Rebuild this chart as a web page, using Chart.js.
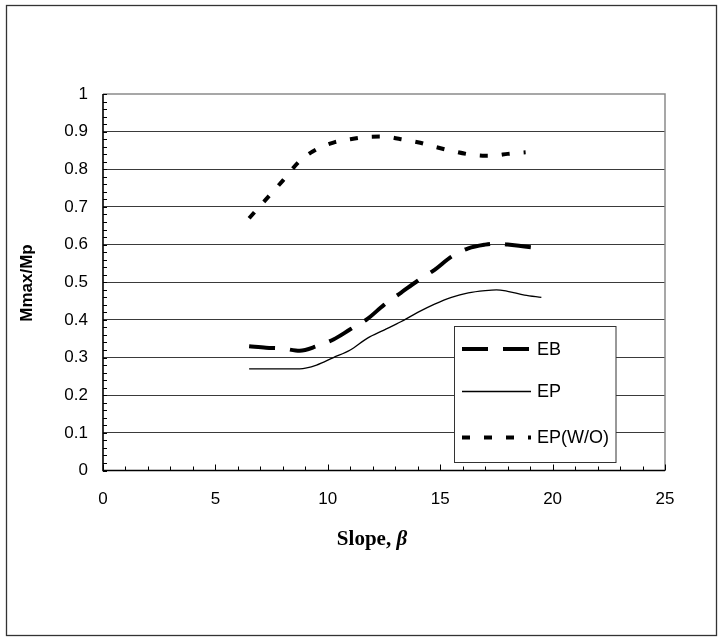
<!DOCTYPE html>
<html>
<head>
<meta charset="utf-8">
<script src="https://cdn.jsdelivr.net/npm/chart.js@4/dist/chart.umd.min.js"></script>
<style>
  html, body { margin: 0; padding: 0; background: #fff; }
  #wrap { width: 722px; height: 641px; position: relative; }
</style>
</head>
<body>
<div id="wrap"><canvas id="c" width="722" height="641"></canvas></div>
<script>
// ---- data ----
const slopeX   = [6.5, 7.25, 8.0, 8.75, 9.5, 10.25, 11.0, 11.75, 12.5, 13.25, 14.0, 14.75, 15.5, 16.25, 17.0, 17.5, 18.0, 18.75, 19.5];
const ebValues = [0.33, 0.326, 0.324, 0.318, 0.33, 0.348, 0.375, 0.402, 0.44, 0.472, 0.504, 0.533, 0.568, 0.59, 0.6, 0.603, 0.6, 0.595, 0.59];
const epValues = [0.27, 0.27, 0.27, 0.27, 0.28, 0.30, 0.32, 0.351, 0.373, 0.395, 0.42, 0.442, 0.46, 0.472, 0.478, 0.48, 0.476, 0.466, 0.46];
const epwoX      = [6.5, 7.25, 8.0, 8.75, 9.5, 10.25, 11.0, 11.75, 12.5, 13.25, 14.0, 14.75, 15.5, 16.25, 17.0, 17.5, 18.0, 18.8];
const epwoValues = [0.67, 0.72, 0.77, 0.822, 0.853, 0.871, 0.88, 0.886, 0.887, 0.88, 0.872, 0.86, 0.849, 0.84, 0.836, 0.837, 0.841, 0.845];
const seriesNames = ['EB', 'EP', 'EP(W/O)'];
const xTicks = [0, 5, 10, 15, 20, 25];
const yTicks = [0, 0.1, 0.2, 0.3, 0.4, 0.5, 0.6, 0.7, 0.8, 0.9, 1];
const xTitle = 'Slope, ';
const xTitleSym = 'β';
const yTitle = 'Mmax/Mp';

const pts = (xs, ys) => ys.map((v, i) => ({x: xs[i], y: v}));

const SANS = '"Liberation Sans", Arial, sans-serif';
const SERIF = '"Liberation Serif", "Times New Roman", serif';

const styles = [
  {borderDash: [26, 15], borderWidth: 4},
  {borderDash: [], borderWidth: 1.3},
  {borderDash: [8, 14], borderWidth: 4}
];

const decor = {
  id: 'decor',
  beforeDraw(chart) {
    const ctx = chart.ctx;
    ctx.save();
    ctx.fillStyle = '#fff';
    ctx.fillRect(0, 0, chart.width, chart.height);
    // outer frame
    ctx.strokeStyle = '#333';
    ctx.lineWidth = 1.3;
    ctx.strokeRect(6.5, 5.5, 710, 630);
    ctx.restore();
  },
  beforeDatasetsDraw(chart) {
    const ctx = chart.ctx;
    const xs = chart.scales.x, ys = chart.scales.y;
    const L = xs.left, R = xs.right, T = ys.top, B = ys.bottom;
    ctx.save();
    // top and right border (grey)
    ctx.strokeStyle = '#8a8a8a';
    ctx.lineWidth = 1.5;
    ctx.beginPath();
    ctx.moveTo(L, T); ctx.lineTo(R, T); ctx.lineTo(R, B);
    ctx.stroke();
    // minor ticks inside
    ctx.strokeStyle = '#000';
    ctx.lineWidth = 1;
    ctx.beginPath();
    for (let v = 0; v <= 50; v++) {
      const y = Math.round(ys.getPixelForValue(v * 0.02)) + 0.5;
      ctx.moveTo(L, y); ctx.lineTo(L + 4, y);
    }
    for (let v = 0; v <= 25; v++) {
      const x = Math.round(xs.getPixelForValue(v)) + 0.5;
      const len = (v % 5 === 0) ? 6 : 4;
      ctx.moveTo(x, B); ctx.lineTo(x, B - len);
    }
    ctx.stroke();
    // left and bottom axis lines
    ctx.lineWidth = 1.6;
    ctx.beginPath();
    ctx.moveTo(L, T); ctx.lineTo(L, B); ctx.lineTo(R, B);
    ctx.stroke();
    ctx.restore();
  },
  afterDatasetsDraw(chart) {
    const ctx = chart.ctx;
    ctx.save();
    // legend box
    const bx = 454.5, by = 326.5, bw = 161.5, bh = 136;
    ctx.fillStyle = '#fff';
    ctx.fillRect(bx, by, bw, bh);
    ctx.strokeStyle = '#333';
    ctx.lineWidth = 1;
    ctx.strokeRect(bx, by, bw, bh);
    const rows = [349, 391.5, 437.5];
    seriesNames.forEach((name, i) => {
      const ds = chart.data.datasets[i];
      ctx.strokeStyle = '#000';
      ctx.lineWidth = ds.borderWidth;
      ctx.setLineDash(ds.borderDash);
      ctx.lineCap = 'butt';
      ctx.beginPath();
      ctx.moveTo(462, rows[i]); ctx.lineTo(531, rows[i]);
      ctx.stroke();
      ctx.setLineDash([]);
      ctx.fillStyle = '#000';
      ctx.font = '18px ' + SANS;
      ctx.textBaseline = 'middle';
      ctx.textAlign = 'left';
      ctx.fillText(name, 537, rows[i] + 1);
    });
    // axis titles
    ctx.fillStyle = '#000';
    ctx.textBaseline = 'middle';
    ctx.font = 'bold 21px ' + SERIF;
    const w1 = ctx.measureText(xTitle).width;
    ctx.font = 'bold italic 21px ' + SERIF;
    const w2 = ctx.measureText(xTitleSym).width;
    const cx = 372, cy = 540;
    let sx = cx - (w1 + w2) / 2;
    ctx.textAlign = 'left';
    ctx.font = 'bold 21px ' + SERIF;
    ctx.fillText(xTitle, sx, cy);
    ctx.font = 'bold italic 21px ' + SERIF;
    ctx.fillText(xTitleSym, sx + w1, cy);
    ctx.translate(27, 283);
    ctx.rotate(-Math.PI / 2);
    ctx.textAlign = 'center';
    ctx.font = 'bold 17px ' + SANS;
    ctx.fillText(yTitle, 0, 0);
    ctx.restore();
  }
};

new Chart(document.getElementById('c'), {
  type: 'line',
  data: {
    datasets: [
      {label: seriesNames[0], data: pts(slopeX, ebValues)},
      {label: seriesNames[1], data: pts(slopeX, epValues)},
      {label: seriesNames[2], data: pts(epwoX, epwoValues)}
    ].map((d, i) => Object.assign(d, styles[i], {
      borderColor: '#000', backgroundColor: '#000', pointRadius: 0,
      fill: false, cubicInterpolationMode: 'monotone', borderCapStyle: 'butt'
    }))
  },
  options: {
    responsive: false,
    animation: false,
    devicePixelRatio: 1,
    layout: {padding: {left: 0, top: 94, right: 57, bottom: 130.5}},
    plugins: {legend: {display: false}, tooltip: {enabled: false}},
    scales: {
      x: {
        type: 'linear', min: 0, max: 25,
        afterBuildTicks: s => { s.ticks = xTicks.map(v => ({value: v})); },
        afterFit: s => { s.height = 40; },
        grid: {display: false, drawTicks: false},
        border: {display: false},
        ticks: {color: '#000', font: {family: SANS, size: 17}, padding: 19, maxRotation: 0}
      },
      y: {
        type: 'linear', min: 0, max: 1,
        afterBuildTicks: s => { s.ticks = yTicks.map(v => ({value: v})); },
        afterFit: s => { s.width = 103; },
        grid: {color: c => (c.tick.value === 0 || c.tick.value === 1) ? 'rgba(0,0,0,0)' : '#3a3a3a', lineWidth: 1, drawTicks: false},
        border: {display: false},
        ticks: {color: '#000', font: {family: SANS, size: 17}, padding: 15,
                callback: v => String(Math.round(v * 10) / 10)}
      }
    }
  },
  plugins: [decor]
});
</script>
</body>
</html>
